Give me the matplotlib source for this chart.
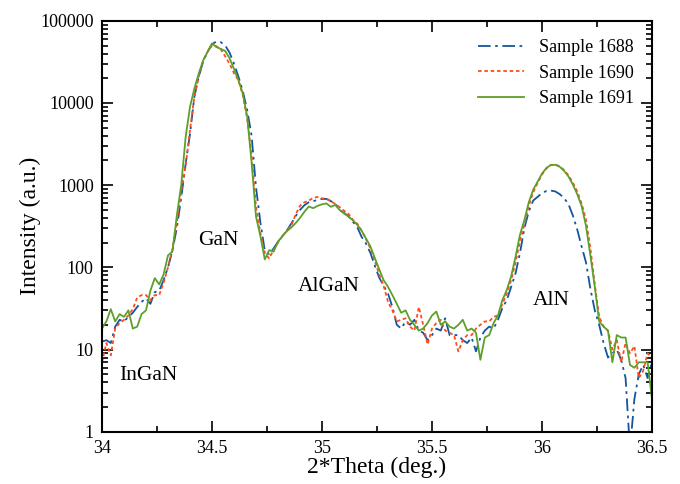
import numpy as np
import matplotlib
matplotlib.use("Agg")
import matplotlib.pyplot as plt
from matplotlib.ticker import FixedLocator, LogLocator, NullFormatter, MultipleLocator

plt.rcParams['font.family'] = ['Liberation Serif', 'DejaVu Serif']
plt.rcParams['mathtext.fontset'] = 'stix'

# 2*Theta sampling grid (deg.), 0.02 step
two_theta = np.linspace(34.0, 36.5, 126)

sample_1688 = [
    12.5, 13, 12, 19, 23, 22, 25, 28, 33, 38,
    42, 36, 50, 52, 70, 100, 160, 300, 700, 1800,
    4200, 12000, 21000, 32000, 42000, 52000, 56000, 55000, 50000, 41000,
    30000, 21000, 14000, 8200, 4000, 950, 350, 160, 145, 170,
    205, 240, 280, 340, 420, 500, 570, 620, 640, 660,
    680, 680, 640, 600, 500, 460, 420, 360, 310, 235,
    195, 150, 105, 75, 60, 48, 33, 20, 18, 22,
    20, 23, 17, 16, 13, 15, 18, 17, 24, 15,
    15, 15, 13, 12, 14, 9.5, 14, 17, 19, 18,
    23, 32, 40, 58, 85, 150, 300, 480, 650, 720,
    800, 850, 860, 840, 780, 700, 590, 430, 290, 180,
    115, 55, 30, 20, 12, 8, 9, 10, 7.5, 4.5,
    0.6, 2.5, 5, 6.5, 4.5, 7,
]

sample_1690 = [
    7, 12, 8.5, 18, 21, 23, 26, 31, 43, 46,
    46, 40, 46, 46, 65, 100, 165, 345, 850, 1700,
    4700, 12000, 21000, 33000, 42000, 50000, 49000, 45000, 37000, 30000,
    23000, 19000, 12500, 6500, 2300, 550, 260, 150, 128, 165,
    200, 240, 280, 320, 440, 560, 620, 650, 700, 720,
    690, 690, 640, 590, 540, 490, 450, 380, 340, 280,
    220, 170, 120, 82, 60, 38, 30, 22, 23, 24,
    19, 17, 33, 20, 11.5, 18, 21, 23, 17, 16,
    15, 9.5, 13, 15, 15, 18, 20, 22, 22, 25,
    26, 36, 48, 70, 115, 210, 330, 560, 820, 1060,
    1350, 1600, 1760, 1780, 1700, 1530, 1320, 1080, 840, 600,
    380, 170, 62, 25, 19, 17, 10, 13, 7, 12,
    9, 11, 4.5, 5.5, 9, 8,
]

sample_1691 = [
    18, 22, 31, 22, 27, 25, 30, 18, 19, 27,
    30, 52, 74, 62, 82, 140, 155, 425, 1000, 3800,
    9000, 15000, 23000, 33000, 42000, 53000, 48000, 45500, 43000, 35000,
    26000, 19000, 13000, 6800, 1900, 415, 240, 125, 162, 155,
    205, 240, 275, 305, 345, 400, 475, 550, 525, 560,
    585, 600, 545, 575, 500, 455, 415, 375, 330, 280,
    225, 180, 130, 95, 70, 58, 46, 36, 28, 30,
    23, 20, 17, 18, 21, 26, 29, 20, 22, 19,
    18, 20, 23, 17, 18, 16, 7.5, 14, 15, 21,
    26, 40, 53, 78, 135, 250, 376, 620, 880, 1100,
    1380, 1620, 1760, 1770, 1680, 1500, 1280, 1020, 780, 560,
    320, 140, 58, 22, 19, 17, 7, 15, 14, 14,
    6.5, 6, 7, 7, 7, 2.5,
]

series_names = ["Sample 1688", "Sample 1690", "Sample 1691"]
peak_labels = ["InGaN", "GaN", "AlGaN", "AlN"]
peak_label_x = [34.21, 34.527, 35.032, 36.04]
peak_label_y = [4.8, 215, 58, 40]

x_ticks = [34, 34.5, 35, 35.5, 36, 36.5]
x_tick_labels = ["34", "34.5", "35", "35.5", "36", "36.5"]
y_ticks = [1, 10, 100, 1000, 10000, 100000]
y_tick_labels = ["1", "10", "100", "1000", "10000", "100000"]

fig = plt.figure(figsize=(6.8, 4.84), dpi=100)
ax = fig.add_axes([0.15, 0.108, 0.8088, 0.849])

ax.plot(two_theta, sample_1688, color="#14559e", lw=1.3,
        linestyle=(0, (7, 2.5, 1.5, 2.5)), label=series_names[0])
ax.plot(two_theta, sample_1690, color="#ff4d1f", lw=1.3,
        linestyle=(0, (2, 1.5)), label=series_names[1])
ax.plot(two_theta, sample_1691, color="#5ca02a", lw=1.3,
        linestyle="-", label=series_names[2])

ax.set_yscale("log")
ax.set_xlim(34, 36.5)
ax.set_ylim(1, 100000)

ax.xaxis.set_major_locator(FixedLocator(x_ticks))
ax.set_xticklabels(x_tick_labels)
ax.xaxis.set_minor_locator(MultipleLocator(0.25))
ax.yaxis.set_major_locator(FixedLocator(y_ticks))
ax.set_yticklabels(y_tick_labels)
ax.yaxis.set_minor_locator(LogLocator(base=10, subs=np.arange(2, 10)))
ax.yaxis.set_minor_formatter(NullFormatter())

ax.tick_params(which="both", direction="in", top=True, right=True,
               labelsize=13, width=1.2)
ax.tick_params(which="major", length=8, pad=6)
ax.tick_params(which="minor", length=4.5)
for s in ax.spines.values():
    s.set_linewidth(1.5)

ax.set_xlabel("2*Theta (deg.)", fontsize=17)
ax.set_ylabel("Intensity (a.u.)", fontsize=17)
ax.xaxis.set_label_coords(0.5, -0.088)
ax.yaxis.set_label_coords(-0.131, 0.5)
ax.xaxis.label.set_va("center")
ax.yaxis.label.set_va("center")

for t, xx, yy in zip(peak_labels, peak_label_x, peak_label_y):
    ax.text(xx, yy, t, fontsize=15.5, ha="center", va="center")

leg = ax.legend(loc="upper right", frameon=False, fontsize=13,
                handlelength=2.6, handletextpad=0.8, labelspacing=0.48,
                borderaxespad=0.6)

fig.savefig("out.png", dpi=100)
